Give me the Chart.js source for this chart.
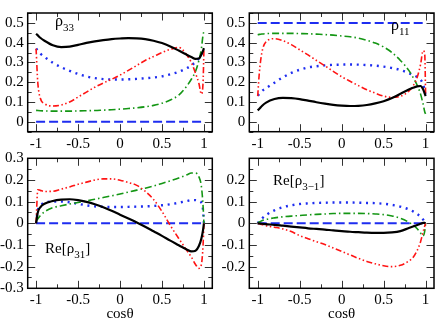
<!DOCTYPE html>
<html>
<head>
<meta charset="utf-8">
<script src="https://cdn.jsdelivr.net/npm/chart.js@4.4.0/dist/chart.umd.min.js"></script>
<style>
  body { margin: 0; background: #fff; }
  #wrap { position: relative; width: 436px; height: 318px; font-family: 'Liberation Serif', serif; }
  #wrap canvas { position: absolute; left: 0; top: 0; }
  .lab { position: absolute; font-size: 16px; line-height: 1; color: #000; white-space: nowrap; }
  .lab span { font-size: 11px; position: relative; top: 5px; }
</style>
</head>
<body>
<div id="wrap">
  <canvas id="c0" width="436" height="318"></canvas>
  <canvas id="c1" width="436" height="318"></canvas>
  <canvas id="c2" width="436" height="318"></canvas>
  <canvas id="c3" width="436" height="318"></canvas>
  <div class="lab" style="left:55px;top:13px">ρ<span>33</span></div>
  <div class="lab" style="left:391px;top:17px">ρ<span>11</span></div>
  <div class="lab" style="left:45px;top:241px;font-size:15px">Re[ρ<span>31</span>]</div>
  <div class="lab" style="left:273px;top:173px;font-size:15px">Re[ρ<span>3−1</span>]</div>
</div>
<script>
// cos(theta) grid shared by the curves
const cosTheta = [-1, -0.98, -0.95, -0.9, -0.8, -0.7, -0.6, -0.5, -0.4, -0.3, -0.2, -0.1, 0,
                  0.1, 0.2, 0.3, 0.4, 0.5, 0.6, 0.7, 0.8, 0.85, 0.9, 0.94, 0.97, 0.99, 1];
const dashX = [-1, 1];

// rho_33
const r33Black = [0.445, 0.437, 0.425, 0.41, 0.387, 0.378, 0.38, 0.389, 0.399, 0.407, 0.413, 0.418, 0.421,
                  0.423, 0.422, 0.418, 0.41, 0.398, 0.381, 0.36, 0.338, 0.327, 0.318, 0.32, 0.34, 0.36, 0.372];
const r33Red   = [0.37, 0.2, 0.12, 0.092, 0.08, 0.085, 0.1, 0.125, 0.15, 0.175, 0.196, 0.215, 0.236,
                  0.26, 0.285, 0.31, 0.33, 0.35, 0.366, 0.376, 0.335, 0.3, 0.245, 0.195, 0.14, 0.2, 0.36];
const r33Green = [0.058, 0.057, 0.056, 0.055, 0.054, 0.054, 0.054, 0.055, 0.056, 0.057, 0.059, 0.061, 0.064,
                  0.067, 0.071, 0.076, 0.083, 0.094, 0.11, 0.135, 0.183, 0.215, 0.255, 0.31, 0.37, 0.44, 0.457];
const r33Dot   = [0.37, 0.36, 0.345, 0.328, 0.298, 0.276, 0.258, 0.242, 0.229, 0.221, 0.216, 0.214, 0.214,
                  0.215, 0.217, 0.22, 0.224, 0.23, 0.24, 0.253, 0.272, 0.285, 0.302, 0.322, 0.343, 0.362, 0.372];
const r33Dash  = [0, 0];

// rho_11
const r11Black = [0.058, 0.066, 0.08, 0.097, 0.115, 0.121, 0.12, 0.115, 0.107, 0.099, 0.092, 0.086, 0.082,
                  0.08, 0.081, 0.085, 0.093, 0.104, 0.12, 0.142, 0.163, 0.172, 0.179, 0.181, 0.165, 0.143, 0.13];
const r11Red   = [0.13, 0.25, 0.35, 0.405, 0.42, 0.41, 0.39, 0.364, 0.338, 0.31, 0.283, 0.255, 0.228,
                  0.205, 0.183, 0.162, 0.145, 0.13, 0.124, 0.129, 0.155, 0.18, 0.225, 0.29, 0.36, 0.34, 0.14];
const r11Green = [0.44, 0.442, 0.444, 0.446, 0.447, 0.447, 0.447, 0.446, 0.445, 0.443, 0.441, 0.438, 0.434,
                  0.43, 0.423, 0.412, 0.398, 0.378, 0.35, 0.31, 0.26, 0.225, 0.185, 0.14, 0.09, 0.05, 0.04];
const r11Dot   = [0.133, 0.14, 0.155, 0.17, 0.198, 0.225, 0.247, 0.263, 0.275, 0.281, 0.285, 0.288, 0.289,
                  0.29, 0.289, 0.287, 0.284, 0.279, 0.272, 0.262, 0.246, 0.237, 0.226, 0.213, 0.19, 0.155, 0.13];
const r11Dash  = [0.5, 0.5];

// Re rho_31
const re31Black = [0, 0.05, 0.074, 0.09, 0.103, 0.109, 0.111, 0.107, 0.099, 0.088, 0.074, 0.058, 0.04,
                   0.022, 0.004, -0.016, -0.037, -0.058, -0.08, -0.101, -0.122, -0.13, -0.127, -0.105, -0.07, -0.03, 0];
const re31Red   = [0, 0.155, 0.152, 0.147, 0.148, 0.158, 0.168, 0.18, 0.19, 0.2, 0.205, 0.205, 0.199,
                   0.188, 0.175, 0.148, 0.11, 0.055, -0.01, -0.07, -0.127, -0.155, -0.19, -0.208, -0.19, -0.1, 0];
const re31Green = [0.01, 0.02, 0.035, 0.053, 0.072, 0.081, 0.089, 0.096, 0.103, 0.111, 0.119, 0.127, 0.135,
                   0.144, 0.153, 0.162, 0.172, 0.184, 0.196, 0.209, 0.224, 0.232, 0.232, 0.215, 0.17, 0.08, 0];
const re31Dot   = [0, 0.06, 0.08, 0.095, 0.1, 0.1, 0.097, 0.09, 0.083, 0.078, 0.076, 0.075, 0.075,
                   0.076, 0.077, 0.078, 0.08, 0.083, 0.088, 0.095, 0.103, 0.107, 0.107, 0.102, 0.095, 0.06, 0];
const re31Dash  = [0, 0];

// Re rho_3-1
const re3m1Black = [0, -0.001, -0.002, -0.004, -0.007, -0.011, -0.015, -0.019, -0.023, -0.026, -0.029, -0.033, -0.036,
                    -0.039, -0.041, -0.043, -0.044, -0.044, -0.042, -0.036, -0.022, -0.015, -0.008, -0.002, 0.002, 0.002, 0];
const re3m1Red   = [0, -0.002, -0.006, -0.011, -0.018, -0.026, -0.038, -0.057, -0.071, -0.085, -0.098, -0.114, -0.13,
                    -0.146, -0.162, -0.176, -0.187, -0.196, -0.2, -0.194, -0.174, -0.158, -0.125, -0.085, -0.04, -0.012, 0];
const re3m1Green = [0, 0.006, 0.012, 0.018, 0.025, 0.03, 0.033, 0.036, 0.039, 0.041, 0.043, 0.045, 0.046,
                    0.046, 0.046, 0.045, 0.043, 0.04, 0.034, 0.023, 0.005, -0.008, -0.025, -0.045, -0.058, -0.035, 0];
const re3m1Dot   = [0, 0.01, 0.022, 0.038, 0.06, 0.074, 0.083, 0.089, 0.092, 0.094, 0.095, 0.096, 0.096,
                    0.096, 0.095, 0.094, 0.093, 0.09, 0.085, 0.077, 0.064, 0.055, 0.043, 0.03, 0.017, 0.006, 0];
const re3m1Dash  = [0, 0];

// tick labels
const xTicks = [-1, -0.5, 0, 0.5, 1];
const yTicksTop = [0, 0.1, 0.2, 0.3, 0.4, 0.5];
const yTicksBL = [-0.3, -0.2, -0.1, 0, 0.1, 0.2, 0.3];
const yTicksBR = [-0.2, -0.1, 0, 0.1, 0.2];

const FONT = "'Liberation Serif', 'Times New Roman', serif";
const BLUE = 'rgb(30,45,240)';

// inward major/minor ticks on all four sides + frame (xmgrace look)
const boxTicks = {
  id: 'boxTicks',
  afterDatasetsDraw(chart) {
    const {ctx, chartArea: a, scales: {x, y}} = chart;
    ctx.save();
    ctx.strokeStyle = '#333';
    ctx.lineWidth = 1;
    ctx.beginPath();
    const seg = (x1, y1, x2, y2) => { ctx.moveTo(x1, y1); ctx.lineTo(x2, y2); };
    for (let k = Math.ceil(x.min / 0.25 - 1e-6); k * 0.25 <= x.max + 1e-6; k++) {
      const p = Math.round(x.getPixelForValue(k * 0.25)) + 0.5;
      const len = k % 2 === 0 ? 7.5 : 4;
      seg(p, a.bottom, p, a.bottom - len);
      seg(p, a.top, p, a.top + len);
    }
    for (let k = Math.ceil(y.min / 0.05 - 1e-6); k * 0.05 <= y.max + 1e-6; k++) {
      const p = Math.round(y.getPixelForValue(k * 0.05)) + 0.5;
      const len = k % 2 === 0 ? 7.5 : 4;
      seg(a.left, p, a.left + len, p);
      seg(a.right, p, a.right - len, p);
    }
    ctx.stroke();
    ctx.lineWidth = 1.5;
    ctx.strokeStyle = '#000';
    ctx.strokeRect(a.left, a.top, a.right - a.left, a.bottom - a.top);
    ctx.restore();
  }
};

const pts = (xs, ys) => xs.map((v, i) => ({x: v, y: ys[i]}));

const makeSets = (black, red, green, dot, dash) => [
  {data: pts(cosTheta, black), borderColor: '#000', borderWidth: 2.2},
  {data: pts(cosTheta, red), borderColor: 'rgb(255,20,20)', borderWidth: 1.6, borderDash: [6, 2.5, 1.5, 2.5, 1.5, 2.5]},
  {data: pts(cosTheta, green), borderColor: 'rgb(20,150,20)', borderWidth: 1.6, borderDash: [7, 3, 1.5, 3]},
  {data: pts(cosTheta, dot), borderColor: BLUE, borderWidth: 2.4, borderDash: [2, 4.7]},
  {data: pts(dashX, dash), borderColor: BLUE, borderWidth: 2, borderDash: [9, 4]}
];

const panels = [
  {id: 'c0', area: [27.7, 1, 212.3, 131.7], yMin: -0.05, yMax: 0.55, yTicks: yTicksTop, title: false,
   sets: makeSets(r33Black, r33Red, r33Green, r33Dot, r33Dash)},
  {id: 'c1', area: [249.3, 1, 434, 131.7], yMin: -0.05, yMax: 0.55, yTicks: yTicksTop, title: false,
   sets: makeSets(r11Black, r11Red, r11Green, r11Dot, r11Dash)},
  {id: 'c2', area: [27.7, 158.3, 212.3, 288.3], yMin: -0.3, yMax: 0.3, yTicks: yTicksBL, title: true,
   sets: makeSets(re31Black, re31Red, re31Green, re31Dot, re31Dash)},
  {id: 'c3', area: [249.3, 158.3, 434, 288.3], yMin: -0.3, yMax: 0.3, yTicks: yTicksBR, title: true,
   sets: makeSets(re3m1Black, re3m1Red, re3m1Green, re3m1Dot, re3m1Dash)}
];

const W = 436, H = 318, YW = 27.7, XH = 29.7;

panels.forEach(p => {
  const [L, T, R, B] = p.area;
  p.sets.forEach(s => {
    s.pointRadius = 0;
    s.fill = false;
    s.cubicInterpolationMode = 'monotone';
    s.borderCapStyle = 'butt';
  });
  new Chart(document.getElementById(p.id), {
    type: 'line',
    data: {datasets: p.sets},
    plugins: [boxTicks],
    options: {
      responsive: false,
      animation: false,
      events: [],
      layout: {padding: {left: L - YW, top: T, right: W - R, bottom: H - B - XH}},
      plugins: {legend: {display: false}, tooltip: {enabled: false}},
      scales: {
        x: {
          type: 'linear', min: -1.1, max: 1.1,
          afterBuildTicks: ax => { ax.ticks = xTicks.map(v => ({value: v})); },
          afterFit: ax => { ax.height = XH; },
          grid: {display: false, drawTicks: false},
          border: {display: false},
          ticks: {color: '#000', padding: 3, maxRotation: 0, font: {family: FONT, size: 15}, callback: v => String(v)},
          title: {display: p.title, text: 'cosθ', color: '#000', padding: 0,
                  font: {family: FONT, size: 15, lineHeight: 0.55}}
        },
        y: {
          type: 'linear', min: p.yMin, max: p.yMax,
          afterBuildTicks: ax => { ax.ticks = p.yTicks.map(v => ({value: v})); },
          afterFit: ax => { ax.width = YW; },
          grid: {display: false, drawTicks: false},
          border: {display: false},
          ticks: {color: '#000', padding: 4, font: {family: FONT, size: 15}, callback: v => String(v)}
        }
      }
    }
  });
});
</script>
</body>
</html>
